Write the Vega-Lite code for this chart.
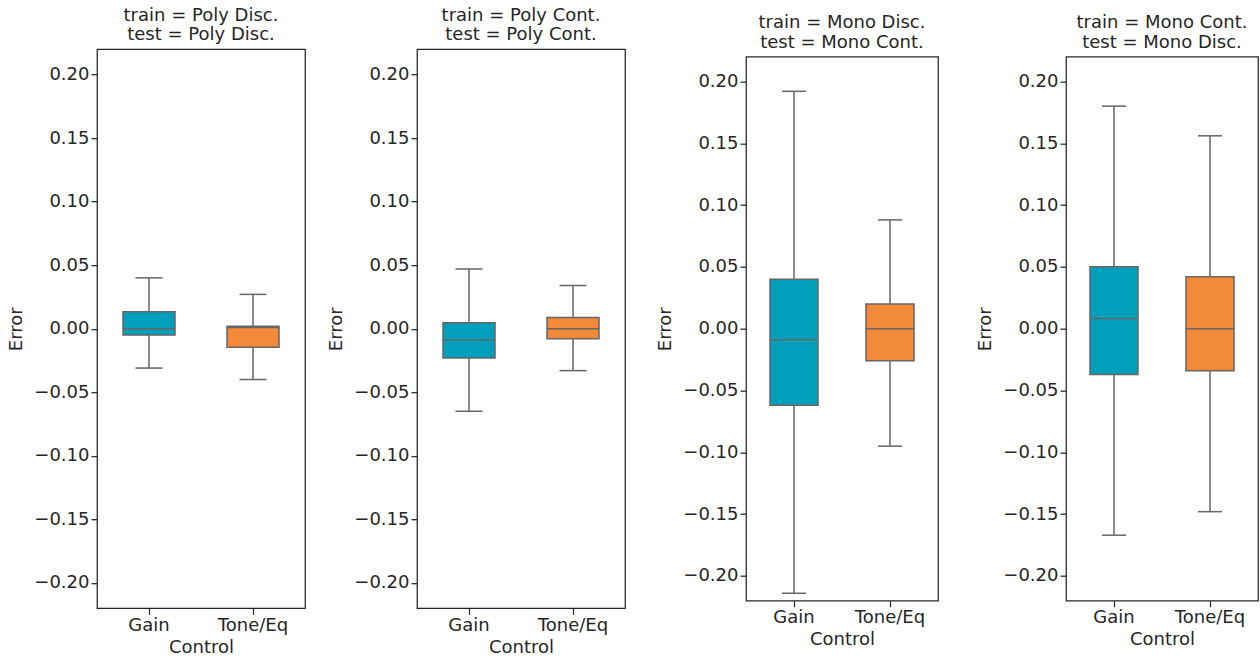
{
  "$schema": "https://vega.github.io/schema/vega-lite/v6.json",
  "background": "white",
  "padding": {"left": 7, "top": 6, "right": 0, "bottom": 0},
  "config": {
    "font": "DejaVu Sans",
    "view": {"stroke": "#262626", "strokeWidth": 1.25},
    "title": {"fontSize": 18, "fontWeight": "normal", "color": "#262626", "font": "DejaVu Sans", "offset": 5, "lineHeight": 19.5},
    "axis": {"labelFontSize": 18, "titleFontSize": 18, "titleFontWeight": "normal", "labelColor": "#262626", "titleColor": "#262626", "tickColor": "#262626", "tickSize": 6, "tickWidth": 1.25, "domain": false, "grid": false, "labelFont": "DejaVu Sans", "titleFont": "DejaVu Sans"},
    "axisY": {"labelPadding": 2, "titlePadding": 8},
    "axisX": {"labelPadding": 2, "titlePadding": 4}
  },
  "data": {"values": [
    {"panel": "p1", "Control": "Gain", "lower": -0.031, "q1": -0.005, "median": 0.0, "q3": 0.0134, "upper": 0.040},
    {"panel": "p1", "Control": "Tone/Eq", "lower": -0.040, "q1": -0.0147, "median": 0.001, "q3": 0.002, "upper": 0.027},
    {"panel": "p2", "Control": "Gain", "lower": -0.065, "q1": -0.023, "median": -0.0089, "q3": 0.0047, "upper": 0.047},
    {"panel": "p2", "Control": "Tone/Eq", "lower": -0.033, "q1": -0.0079, "median": 0.0, "q3": 0.0089, "upper": 0.034},
    {"panel": "p3", "Control": "Gain", "lower": -0.214, "q1": -0.062, "median": -0.0089, "q3": 0.040, "upper": 0.192},
    {"panel": "p3", "Control": "Tone/Eq", "lower": -0.095, "q1": -0.026, "median": 0.0, "q3": 0.020, "upper": 0.088},
    {"panel": "p4", "Control": "Gain", "lower": -0.167, "q1": -0.037, "median": 0.0083, "q3": 0.050, "upper": 0.180},
    {"panel": "p4", "Control": "Tone/Eq", "lower": -0.148, "q1": -0.034, "median": 0.0, "q3": 0.042, "upper": 0.156}
  ]},
  "hconcat": [
    {
      "bounds": "flush",
      "spacing": 112,
      "hconcat": [
        {
          "width": 208, "height": 559,
          "title": {"text": ["train = Poly Disc.", "test = Poly Disc."]},
          "transform": [{"filter": "datum.panel === 'p1'"}],
          "encoding": {"x": {"field": "Control", "type": "nominal", "scale": {"paddingInner": 0, "paddingOuter": 0}, "axis": {"title": "Control", "labelAngle": 0}}},
          "layer": [
            {"mark": {"type": "rule", "color": "#666666", "strokeWidth": 1.5}, "encoding": {"y": {"field": "lower", "type": "quantitative", "title": "Error", "scale": {"domain": [-0.22, 0.22], "nice": false, "zero": false}, "axis": {"values": [-0.2, -0.15, -0.1, -0.05, 0, 0.05, 0.1, 0.15, 0.2], "format": ".2f"}}, "y2": {"field": "upper"}}},
            {"mark": {"type": "bar", "width": {"band": 0.5}, "stroke": "#666666", "strokeWidth": 1.5, "fillOpacity": 1}, "encoding": {"y": {"field": "q1", "type": "quantitative", "title": "Error"}, "y2": {"field": "q3"}, "fill": {"field": "Control", "type": "nominal", "scale": {"domain": ["Gain", "Tone/Eq"], "range": ["#00a0bd", "#f28a3a"]}, "legend": null}}},
            {"mark": {"type": "tick", "color": "#666666", "thickness": 1.5, "size": 52, "opacity": 1}, "encoding": {"y": {"field": "median", "type": "quantitative", "title": "Error"}}},
            {"mark": {"type": "tick", "color": "#666666", "thickness": 1.5, "size": 27, "opacity": 1}, "encoding": {"y": {"field": "lower", "type": "quantitative", "title": "Error"}}},
            {"mark": {"type": "tick", "color": "#666666", "thickness": 1.5, "size": 27, "opacity": 1}, "encoding": {"y": {"field": "upper", "type": "quantitative", "title": "Error"}}}
          ]
        },
        {
          "width": 208, "height": 559,
          "title": {"text": ["train = Poly Cont.", "test = Poly Cont."]},
          "transform": [{"filter": "datum.panel === 'p2'"}],
          "encoding": {"x": {"field": "Control", "type": "nominal", "scale": {"paddingInner": 0, "paddingOuter": 0}, "axis": {"title": "Control", "labelAngle": 0}}},
          "layer": [
            {"mark": {"type": "rule", "color": "#666666", "strokeWidth": 1.5}, "encoding": {"y": {"field": "lower", "type": "quantitative", "title": "Error", "scale": {"domain": [-0.22, 0.22], "nice": false, "zero": false}, "axis": {"values": [-0.2, -0.15, -0.1, -0.05, 0, 0.05, 0.1, 0.15, 0.2], "format": ".2f"}}, "y2": {"field": "upper"}}},
            {"mark": {"type": "bar", "width": {"band": 0.5}, "stroke": "#666666", "strokeWidth": 1.5, "fillOpacity": 1}, "encoding": {"y": {"field": "q1", "type": "quantitative", "title": "Error"}, "y2": {"field": "q3"}, "fill": {"field": "Control", "type": "nominal", "scale": {"domain": ["Gain", "Tone/Eq"], "range": ["#00a0bd", "#f28a3a"]}, "legend": null}}},
            {"mark": {"type": "tick", "color": "#666666", "thickness": 1.5, "size": 52, "opacity": 1}, "encoding": {"y": {"field": "median", "type": "quantitative", "title": "Error"}}},
            {"mark": {"type": "tick", "color": "#666666", "thickness": 1.5, "size": 27, "opacity": 1}, "encoding": {"y": {"field": "lower", "type": "quantitative", "title": "Error"}}},
            {"mark": {"type": "tick", "color": "#666666", "thickness": 1.5, "size": 27, "opacity": 1}, "encoding": {"y": {"field": "upper", "type": "quantitative", "title": "Error"}}}
          ]
        }
      ]
    },
    {
      "bounds": "flush",
      "spacing": 128,
      "hconcat": [
        {
          "width": 192, "height": 544,
          "title": {"text": ["train = Mono Disc.", "test = Mono Cont."]},
          "transform": [{"filter": "datum.panel === 'p3'"}],
          "encoding": {"x": {"field": "Control", "type": "nominal", "scale": {"paddingInner": 0, "paddingOuter": 0}, "axis": {"title": "Control", "labelAngle": 0}}},
          "layer": [
            {"mark": {"type": "rule", "color": "#666666", "strokeWidth": 1.5}, "encoding": {"y": {"field": "lower", "type": "quantitative", "title": "Error", "scale": {"domain": [-0.22, 0.22], "nice": false, "zero": false}, "axis": {"values": [-0.2, -0.15, -0.1, -0.05, 0, 0.05, 0.1, 0.15, 0.2], "format": ".2f"}}, "y2": {"field": "upper"}}},
            {"mark": {"type": "bar", "width": {"band": 0.5}, "stroke": "#666666", "strokeWidth": 1.5, "fillOpacity": 1}, "encoding": {"y": {"field": "q1", "type": "quantitative", "title": "Error"}, "y2": {"field": "q3"}, "fill": {"field": "Control", "type": "nominal", "scale": {"domain": ["Gain", "Tone/Eq"], "range": ["#00a0bd", "#f28a3a"]}, "legend": null}}},
            {"mark": {"type": "tick", "color": "#666666", "thickness": 1.5, "size": 48, "opacity": 1}, "encoding": {"y": {"field": "median", "type": "quantitative", "title": "Error"}}},
            {"mark": {"type": "tick", "color": "#666666", "thickness": 1.5, "size": 24, "opacity": 1}, "encoding": {"y": {"field": "lower", "type": "quantitative", "title": "Error"}}},
            {"mark": {"type": "tick", "color": "#666666", "thickness": 1.5, "size": 24, "opacity": 1}, "encoding": {"y": {"field": "upper", "type": "quantitative", "title": "Error"}}}
          ]
        },
        {
          "width": 192, "height": 544,
          "title": {"text": ["train = Mono Cont.", "test = Mono Disc."]},
          "transform": [{"filter": "datum.panel === 'p4'"}],
          "encoding": {"x": {"field": "Control", "type": "nominal", "scale": {"paddingInner": 0, "paddingOuter": 0}, "axis": {"title": "Control", "labelAngle": 0}}},
          "layer": [
            {"mark": {"type": "rule", "color": "#666666", "strokeWidth": 1.5}, "encoding": {"y": {"field": "lower", "type": "quantitative", "title": "Error", "scale": {"domain": [-0.22, 0.22], "nice": false, "zero": false}, "axis": {"values": [-0.2, -0.15, -0.1, -0.05, 0, 0.05, 0.1, 0.15, 0.2], "format": ".2f"}}, "y2": {"field": "upper"}}},
            {"mark": {"type": "bar", "width": {"band": 0.5}, "stroke": "#666666", "strokeWidth": 1.5, "fillOpacity": 1}, "encoding": {"y": {"field": "q1", "type": "quantitative", "title": "Error"}, "y2": {"field": "q3"}, "fill": {"field": "Control", "type": "nominal", "scale": {"domain": ["Gain", "Tone/Eq"], "range": ["#00a0bd", "#f28a3a"]}, "legend": null}}},
            {"mark": {"type": "tick", "color": "#666666", "thickness": 1.5, "size": 48, "opacity": 1}, "encoding": {"y": {"field": "median", "type": "quantitative", "title": "Error"}}},
            {"mark": {"type": "tick", "color": "#666666", "thickness": 1.5, "size": 24, "opacity": 1}, "encoding": {"y": {"field": "lower", "type": "quantitative", "title": "Error"}}},
            {"mark": {"type": "tick", "color": "#666666", "thickness": 1.5, "size": 24, "opacity": 1}, "encoding": {"y": {"field": "upper", "type": "quantitative", "title": "Error"}}}
          ]
        }
      ]
    }
  ],
  "spacing": 30,
  "center": true
}
